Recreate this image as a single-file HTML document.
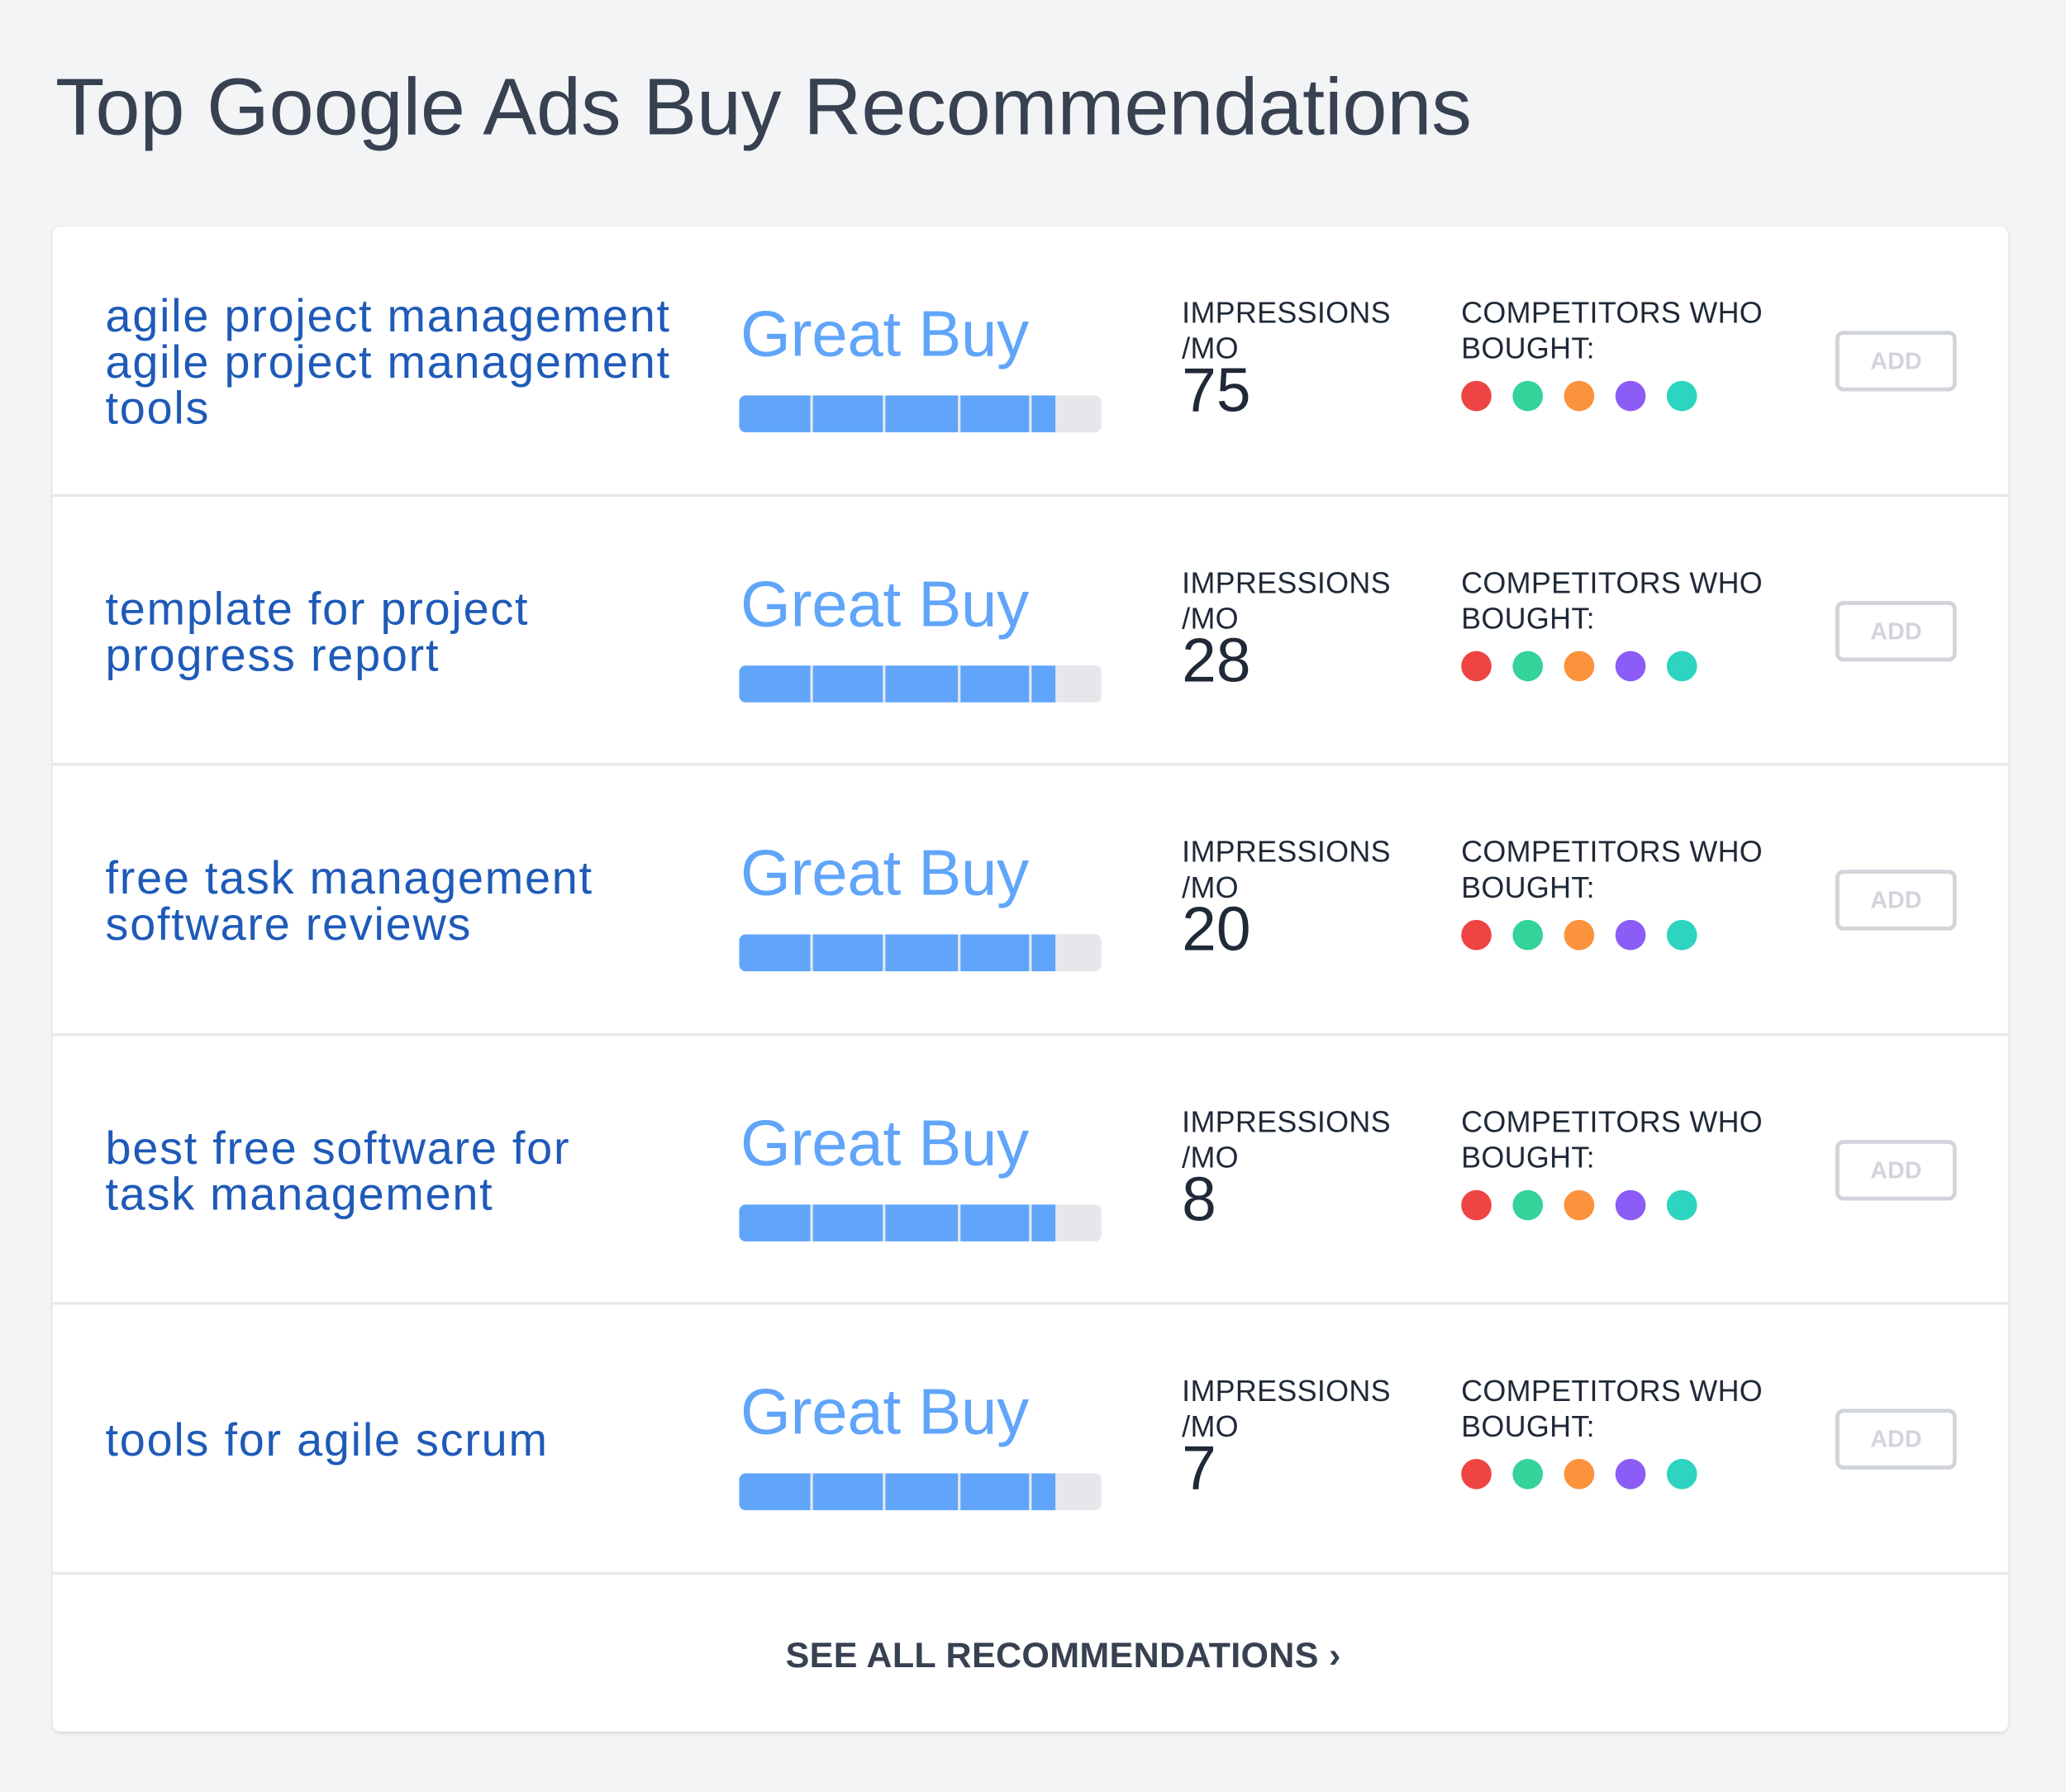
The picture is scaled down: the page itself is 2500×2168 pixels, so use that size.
<!DOCTYPE html>
<html><head><meta charset="utf-8"><style>
html,body{margin:0;padding:0;background:#f3f4f6;}
body{width:2500px;height:2168px;overflow:hidden;}
#w{position:absolute;left:0;top:0;width:1568px;height:1360px;transform:scale(1.59439);transform-origin:0 0;font-family:"Liberation Sans",Arial,sans-serif;}
h1{position:absolute;left:42px;top:46px;margin:0;font-weight:normal;font-size:61px;line-height:70px;color:#374151;letter-spacing:-0.1px;white-space:nowrap;}
.card{position:absolute;left:40px;top:172px;width:1484px;height:1142px;background:#fff;border-radius:6px;box-shadow:0 1px 3px rgba(0,0,0,.12);}
.row{position:absolute;left:0;width:1484px;height:204.6px;border-bottom:2px solid #e5e7eb;box-sizing:border-box;}
.kw{position:absolute;left:40px;top:103px;transform:translateY(-50%);font-size:35px;line-height:35px;color:#1e5ab8;white-space:nowrap;letter-spacing:1.1px;}
.gb{position:absolute;left:522px;top:52px;font-size:49px;line-height:60px;color:#60a5fa;white-space:nowrap;letter-spacing:-0.2px;}
.bar{position:absolute;left:521px;top:128px;width:275px;height:28px;border-radius:5px;background:#e5e7eb;overflow:hidden;}
.bar i{position:absolute;top:0;height:28px;background:#60a5fa;}
.lab{position:absolute;top:52px;font-size:22.5px;line-height:27px;color:#1f2937;white-space:nowrap;letter-spacing:0.2px;}
.num{position:absolute;left:857px;top:98px;font-size:47px;line-height:52px;color:#1f2937;}
.dots{position:absolute;left:1069px;top:117px;}
.dots b{position:absolute;top:0;width:23px;height:23px;border-radius:50%;}
.add{position:absolute;left:1353px;top:79px;width:92px;height:46px;box-sizing:border-box;border:3px solid #d1d5db;border-radius:6px;color:#d1d5db;font-weight:bold;font-size:18px;line-height:40px;text-align:center;}
.foot{position:absolute;left:0;top:1069px;width:1484px;padding-left:50px;box-sizing:border-box;text-align:center;font-weight:bold;font-size:27px;color:#374151;letter-spacing:0.2px;}
</style></head><body><div id="w">
<h1>Top Google Ads Buy Recommendations</h1>
<div class="card">
<div class="row" style="top:0">
<div class="kw">agile project management<br>agile project management<br>tools</div>
<div class="gb">Great Buy</div>
<div class="bar"><i style="left:0;width:54px"></i><i style="left:56px;width:53px"></i><i style="left:111px;width:55px"></i><i style="left:168px;width:52px"></i><i style="left:222px;width:18px"></i></div>
<div class="lab" style="left:857px">IMPRESSIONS<br>/MO</div><div class="num">75</div>
<div class="lab" style="left:1069px">COMPETITORS WHO<br>BOUGHT:</div>
<div class="dots"><b style="left:0;background:#ef4444"></b><b style="left:39px;background:#34d399"></b><b style="left:78px;background:#fb923c"></b><b style="left:117px;background:#8b5cf6"></b><b style="left:156px;background:#2dd4bf"></b></div>
<div class="add">ADD</div>
</div>
<div class="row" style="top:204.6px">
<div class="kw">template for project<br>progress report</div>
<div class="gb">Great Buy</div>
<div class="bar"><i style="left:0;width:54px"></i><i style="left:56px;width:53px"></i><i style="left:111px;width:55px"></i><i style="left:168px;width:52px"></i><i style="left:222px;width:18px"></i></div>
<div class="lab" style="left:857px">IMPRESSIONS<br>/MO</div><div class="num">28</div>
<div class="lab" style="left:1069px">COMPETITORS WHO<br>BOUGHT:</div>
<div class="dots"><b style="left:0;background:#ef4444"></b><b style="left:39px;background:#34d399"></b><b style="left:78px;background:#fb923c"></b><b style="left:117px;background:#8b5cf6"></b><b style="left:156px;background:#2dd4bf"></b></div>
<div class="add">ADD</div>
</div>
<div class="row" style="top:409.2px">
<div class="kw">free task management<br>software reviews</div>
<div class="gb">Great Buy</div>
<div class="bar"><i style="left:0;width:54px"></i><i style="left:56px;width:53px"></i><i style="left:111px;width:55px"></i><i style="left:168px;width:52px"></i><i style="left:222px;width:18px"></i></div>
<div class="lab" style="left:857px">IMPRESSIONS<br>/MO</div><div class="num">20</div>
<div class="lab" style="left:1069px">COMPETITORS WHO<br>BOUGHT:</div>
<div class="dots"><b style="left:0;background:#ef4444"></b><b style="left:39px;background:#34d399"></b><b style="left:78px;background:#fb923c"></b><b style="left:117px;background:#8b5cf6"></b><b style="left:156px;background:#2dd4bf"></b></div>
<div class="add">ADD</div>
</div>
<div class="row" style="top:613.8px">
<div class="kw">best free software for<br>task management</div>
<div class="gb">Great Buy</div>
<div class="bar"><i style="left:0;width:54px"></i><i style="left:56px;width:53px"></i><i style="left:111px;width:55px"></i><i style="left:168px;width:52px"></i><i style="left:222px;width:18px"></i></div>
<div class="lab" style="left:857px">IMPRESSIONS<br>/MO</div><div class="num">8</div>
<div class="lab" style="left:1069px">COMPETITORS WHO<br>BOUGHT:</div>
<div class="dots"><b style="left:0;background:#ef4444"></b><b style="left:39px;background:#34d399"></b><b style="left:78px;background:#fb923c"></b><b style="left:117px;background:#8b5cf6"></b><b style="left:156px;background:#2dd4bf"></b></div>
<div class="add">ADD</div>
</div>
<div class="row" style="top:818.4px">
<div class="kw">tools for agile scrum</div>
<div class="gb">Great Buy</div>
<div class="bar"><i style="left:0;width:54px"></i><i style="left:56px;width:53px"></i><i style="left:111px;width:55px"></i><i style="left:168px;width:52px"></i><i style="left:222px;width:18px"></i></div>
<div class="lab" style="left:857px">IMPRESSIONS<br>/MO</div><div class="num">7</div>
<div class="lab" style="left:1069px">COMPETITORS WHO<br>BOUGHT:</div>
<div class="dots"><b style="left:0;background:#ef4444"></b><b style="left:39px;background:#34d399"></b><b style="left:78px;background:#fb923c"></b><b style="left:117px;background:#8b5cf6"></b><b style="left:156px;background:#2dd4bf"></b></div>
<div class="add">ADD</div>
</div>
<div class="foot">SEE ALL RECOMMENDATIONS ›</div>
</div>
</div></body></html>
